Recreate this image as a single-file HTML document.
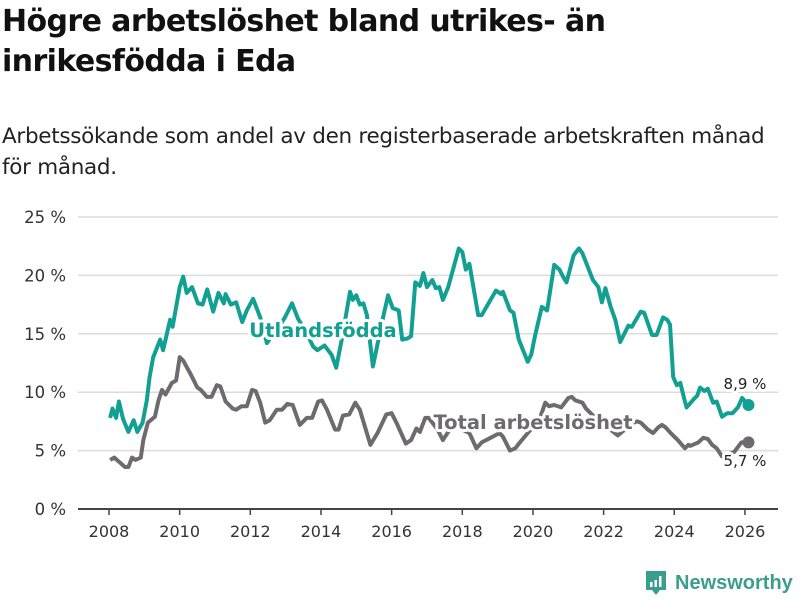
<!DOCTYPE html>
<html><head><meta charset="utf-8"><style>
body{margin:0;background:#fff;width:800px;height:600px;overflow:hidden;font-family:"Liberation Sans","DejaVu Sans",sans-serif}
h1{position:absolute;left:2px;top:2px;margin:0;font:bold 30px/40px "DejaVu Sans","Liberation Sans",sans-serif;color:#111;letter-spacing:-0.6px}
.sub{position:absolute;left:2px;top:121px;font:21.5px/31px "DejaVu Sans","Liberation Sans",sans-serif;color:#222;letter-spacing:-0.3px}
svg{position:absolute;left:0;top:0}
</style></head><body>
<h1>Högre arbetslöshet bland utrikes- än<br>inrikesfödda i Eda</h1>
<div class="sub">Arbetssökande som andel av den registerbaserade arbetskraften månad<br>för månad.</div>
<svg id="c" width="800" height="600"></svg>
<script>
const yTicks=[0,5,10,15,20,25];
const xTicks=[2008,2010,2012,2014,2016,2018,2020,2022,2024,2026];
const uDates=[2008.03,2008.1,2008.2,2008.28,2008.4,2008.55,2008.7,2008.8,2008.95,2009.07,2009.15,2009.25,2009.45,2009.53,2009.73,2009.8,2010.0,2010.1,2010.2,2010.35,2010.52,2010.65,2010.78,2010.95,2011.1,2011.25,2011.3,2011.45,2011.6,2011.77,2011.9,2012.08,2012.28,2012.47,2012.6,2012.75,2012.85,2012.98,2013.18,2013.35,2013.6,2013.78,2013.9,2014.1,2014.3,2014.43,2014.6,2014.82,2014.9,2015.0,2015.1,2015.2,2015.3,2015.47,2015.75,2015.9,2016.03,2016.2,2016.3,2016.45,2016.55,2016.67,2016.8,2016.9,2017.0,2017.15,2017.25,2017.35,2017.45,2017.6,2017.9,2018.0,2018.1,2018.2,2018.45,2018.55,2018.95,2019.1,2019.15,2019.35,2019.45,2019.6,2019.85,2019.95,2020.05,2020.25,2020.4,2020.6,2020.75,2020.85,2020.95,2021.15,2021.3,2021.4,2021.7,2021.85,2021.95,2022.05,2022.2,2022.33,2022.47,2022.7,2022.8,2023.05,2023.15,2023.37,2023.5,2023.68,2023.8,2023.88,2023.97,2024.07,2024.17,2024.3,2024.35,2024.55,2024.65,2024.73,2024.85,2024.95,2025.1,2025.2,2025.35,2025.5,2025.65,2025.8,2025.92,2026.1];
const uVals=[7.8,8.6,7.8,9.2,7.7,6.6,7.6,6.6,7.4,9.3,11.3,13,14.5,13.6,16.2,15.6,19,19.9,18.5,19,17.6,17.5,18.8,16.9,18.5,17.6,18.4,17.5,17.7,16,17,18,16.4,14.2,14.8,15.5,15.8,16.4,17.6,16.3,15,13.9,13.6,14,13.2,12.1,14.7,18.6,17.9,18.3,17.5,17.6,16.6,12.2,16.3,18.3,17.2,17,14.5,14.6,14.8,19.4,19.1,20.2,19,19.6,18.9,19,17.9,19,22.3,22,20.5,21,16.6,16.6,18.7,18.4,18.6,17,16.8,14.5,12.6,13.2,14.7,17.3,17,20.9,20.5,19.9,19.4,21.7,22.3,21.9,19.6,19,17.7,18.9,17.3,16.2,14.3,15.7,15.6,16.9,16.8,14.9,14.9,16.4,16.2,15.8,11.3,10.6,10.8,9.2,8.7,9.4,9.7,10.4,10.1,10.3,9.1,9.2,7.9,8.2,8.2,8.7,9.5,8.9];
const tDates=[2008.03,2008.15,2008.3,2008.45,2008.55,2008.65,2008.75,2008.9,2008.97,2009.1,2009.3,2009.4,2009.5,2009.6,2009.78,2009.9,2010.0,2010.1,2010.3,2010.5,2010.6,2010.77,2010.9,2011.05,2011.15,2011.3,2011.5,2011.6,2011.75,2011.9,2012.05,2012.15,2012.28,2012.42,2012.55,2012.75,2012.9,2013.05,2013.2,2013.4,2013.6,2013.75,2013.92,2014.03,2014.17,2014.4,2014.5,2014.62,2014.8,2014.97,2015.1,2015.4,2015.6,2015.85,2016.0,2016.15,2016.4,2016.55,2016.7,2016.8,2016.95,2017.05,2017.3,2017.45,2017.6,2017.8,2018.0,2018.2,2018.4,2018.55,2018.8,2019.05,2019.15,2019.35,2019.5,2019.63,2019.85,2020.05,2020.2,2020.35,2020.45,2020.6,2020.8,2021.0,2021.1,2021.2,2021.4,2021.5,2021.7,2021.9,2022.1,2022.4,2022.6,2022.85,2022.95,2023.05,2023.25,2023.4,2023.55,2023.65,2023.75,2023.9,2024.1,2024.3,2024.4,2024.45,2024.68,2024.82,2024.95,2025.07,2025.2,2025.35,2025.5,2025.7,2025.9,2026.1];
const tVals=[4.2,4.4,4.0,3.6,3.6,4.4,4.2,4.4,5.9,7.4,7.9,9.3,10.2,9.8,10.8,11,13,12.7,11.6,10.4,10.2,9.6,9.6,10.6,10.5,9.2,8.6,8.5,8.8,8.8,10.2,10.1,9.1,7.4,7.6,8.5,8.5,9.0,8.9,7.2,7.8,7.8,9.2,9.3,8.5,6.8,6.8,8.0,8.1,9.1,8.5,5.5,6.5,8.1,8.2,7.3,5.6,5.9,6.9,6.6,7.8,7.8,6.8,5.9,6.6,7.2,6.8,6.5,5.2,5.7,6.1,6.5,6.2,5.0,5.2,5.7,6.5,7.2,7.8,9.1,8.8,8.9,8.7,9.5,9.6,9.3,9.1,8.6,8.0,7.5,7.0,6.3,6.8,7.4,7.5,7.4,6.8,6.5,7.0,7.2,7.0,6.5,5.9,5.2,5.5,5.4,5.7,6.1,6.0,5.5,5.2,4.5,4.6,4.9,5.7,5.7];
const TEAL="#12a093",GRAY="#6d6b70";
const NS="http://www.w3.org/2000/svg",svg=document.getElementById('c');
const X=y=>109+(y-2008)*35.33, Y=v=>509-v*11.68;
function mk(t,a,p){const e=document.createElementNS(NS,t);for(const k in a)e.setAttribute(k,a[k]);(p||svg).appendChild(e);return e;}
yTicks.forEach(v=>{
 const g=mk('line',{x1:78,x2:778,y1:Y(v),y2:Y(v),stroke:v?'#dcdcdc':'#444','stroke-width':v?1.5:2});
 
 
 const t=mk('text',{x:66,y:Y(v)+6,'text-anchor':'end','font-size':16.5,fill:'#333','font-family':'DejaVu Sans, Liberation Sans, sans-serif'});
 t.textContent=v+' %';
 
 
});
xTicks.forEach(y=>{
 const l=mk('line',{x1:X(y),x2:X(y),y1:509,y2:515,stroke:'#444','stroke-width':1.5});
 
 
 const t=mk('text',{x:X(y),y:537,'text-anchor':'middle','font-size':16,fill:'#333','font-family':'DejaVu Sans, Liberation Sans, sans-serif'});
 t.textContent=y;
 
 
});
function line(d,v,c,name){
 const p=mk('path',{d:d.map((x,i)=>(i?'L':'M')+X(x).toFixed(1)+','+Y(v[i]).toFixed(1)).join(''),fill:'none',stroke:c,'stroke-width':4,'stroke-linejoin':'round'});
 
 
 const n=d.length-1;
 const dot=mk('circle',{cx:X(d[n]),cy:Y(v[n]),r:6,fill:c});
 
 
}
line(tDates,tVals,GRAY,'total-line');
line(uDates,uVals,TEAL,'utlandsfodda-line');
function lab(txt,x,y,c,bold,size,name,anchor){
 const t=mk('text',{x:x,y:y,'text-anchor':anchor||'middle','font-size':size,'font-weight':bold?'bold':'normal',fill:c,stroke:'#fff','stroke-width':6,'paint-order':'stroke','stroke-linejoin':'round','font-family':'DejaVu Sans, Liberation Sans, sans-serif'});
 t.textContent=txt;
 
 
}
lab('Utlandsfödda',323,337,TEAL,true,19.5,'utlandsfodda-label');
lab('Total arbetslöshet',533,429,GRAY,true,19.5,'total-label');
lab('8,9 %',745,389,'#222',false,15,'utlandsfodda-last-value');
lab('5,7 %',745,466,'#222',false,15,'total-last-value');
</script>
<div style="position:absolute;left:645px;top:570px;display:flex;align-items:center">
<svg width="22" height="26" style="position:static"><path d="M1 1h20v19h-6l-4 5-4-5H1z" fill="#3a9e8f"/><rect x="5" y="12" width="2.5" height="5" fill="#fff"/><rect x="9.5" y="10" width="2.5" height="7" fill="#fff"/><rect x="14" y="6" width="2.5" height="11" fill="#fff"/></svg>
<span style="margin-left:8px;font:bold 20px 'Liberation Sans',sans-serif;color:#3a9e8f">Newsworthy</span></div>
</body></html>
